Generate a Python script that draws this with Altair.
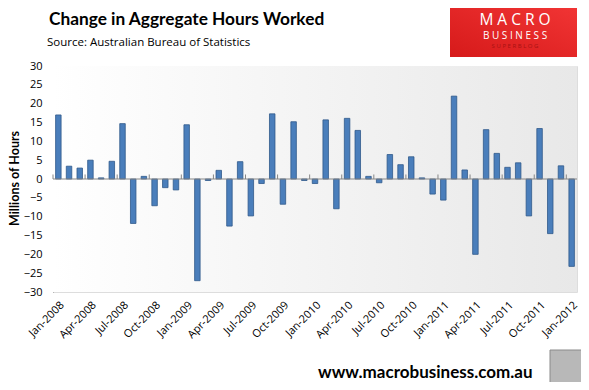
import altair as alt
import pandas as pd

months_2008 = ["Jan-2008", "Feb-2008", "Mar-2008", "Apr-2008", "May-2008", "Jun-2008",
               "Jul-2008", "Aug-2008", "Sep-2008", "Oct-2008", "Nov-2008", "Dec-2008"]
months_2009 = ["Jan-2009", "Feb-2009", "Mar-2009", "Apr-2009", "May-2009", "Jun-2009",
               "Jul-2009", "Aug-2009", "Sep-2009", "Oct-2009", "Nov-2009", "Dec-2009"]
months_2010 = ["Jan-2010", "Feb-2010", "Mar-2010", "Apr-2010", "May-2010", "Jun-2010",
               "Jul-2010", "Aug-2010", "Sep-2010", "Oct-2010", "Nov-2010", "Dec-2010"]
months_2011 = ["Jan-2011", "Feb-2011", "Mar-2011", "Apr-2011", "May-2011", "Jun-2011",
               "Jul-2011", "Aug-2011", "Sep-2011", "Oct-2011", "Nov-2011", "Dec-2011"]
months_2012 = ["Jan-2012"]

values_2008 = [17.0, 3.4, 2.9, 5.0, 0.3, 4.7, 14.7, -11.8, 0.7, -7.1, -2.3, -2.9]
values_2009 = [14.4, -27.0, -0.4, 2.3, -12.5, 4.6, -9.8, -1.2, 17.3, -6.7, 15.2, -0.4]
values_2010 = [-1.2, 15.7, -7.9, 16.1, 12.9, 0.7, -1.0, 6.5, 3.8, 5.9, 0.3, -4.0]
values_2011 = [-5.6, 22.0, 2.4, -20.0, 13.1, 6.8, 3.1, 4.3, -9.8, 13.4, -14.5, 3.5]
values_2012 = [-23.2]

tick_labels = ["Jan-2008", "Apr-2008", "Jul-2008", "Oct-2008", "Jan-2009", "Apr-2009",
               "Jul-2009", "Oct-2009", "Jan-2010", "Apr-2010", "Jul-2010", "Oct-2010",
               "Jan-2011", "Apr-2011", "Jul-2011", "Oct-2011", "Jan-2012"]
y_ticks = [30, 25, 20, 15, 10, 5, 0, -5, -10, -15, -20, -25, -30]

months = months_2008 + months_2009 + months_2010 + months_2011 + months_2012
values = values_2008 + values_2009 + values_2010 + values_2011 + values_2012

df = pd.DataFrame({"month": months, "value": values})
ticks_df = pd.DataFrame({"month": tick_labels})
one = pd.DataFrame({"a": [0]})

W, H = 524, 226

x_scale = alt.Scale(domain=months, paddingInner=0, paddingOuter=0)
y_scale = alt.Scale(domain=[-30, 30], nice=False, zero=False)

x_axis = alt.Axis(values=tick_labels, labelAngle=-45, labelAlign="right",
                  labelBaseline="top", domain=False, ticks=False, grid=False,
                  labelPadding=7, labelFontSize=11, labelFont="Open Sans",
                  labelColor="#000000", title=None, labelOverlap=False)
y_axis = alt.Axis(values=y_ticks, domain=True, domainColor="#868686",
                  ticks=False, grid=False, labelFontSize=11,
                  labelFont="Open Sans", labelColor="#000000", labelPadding=11,
                  labelOverlap=False,
                  title="Millions of Hours", titleFontSize=12.5,
                  titleFont="Lato", titleFontWeight="bold",
                  titleColor="#000000", titleX=-35, titleY=112,
                  titleAngle=270, titleAlign="center",
                  titleBaseline="alphabetic")

bg = alt.Chart(one).mark_rect(
    fill=alt.LinearGradient(
        gradient="linear",
        stops=[alt.GradientStop(color="#ffffff", offset=0),
               alt.GradientStop(color="#e8e8e8", offset=1)],
        x1=0, x2=1, y1=0, y2=0),
).encode(x=alt.value(0), x2=alt.value(W), y=alt.value(0), y2=alt.value(H))

bars = alt.Chart(df).mark_bar(
    size=5.5, fill="#4a7ebb", stroke="#30598a", strokeWidth=0.8
).encode(
    x=alt.X("month:N", scale=x_scale, sort=months, axis=x_axis),
    y=alt.Y("value:Q", scale=y_scale, axis=y_axis),
)

zero = alt.Chart(one).mark_rule(color="#868686", strokeWidth=1).encode(
    y=alt.YDatum(0, scale=y_scale, axis=y_axis), x=alt.value(0), x2=alt.value(W))

tick_marks = alt.Chart(ticks_df).mark_rule(color="#868686", strokeWidth=1).encode(
    x=alt.X("month:N", scale=x_scale, sort=months, bandPosition=0, axis=x_axis),
    y=alt.YDatum(0, scale=y_scale, axis=y_axis), y2=alt.Y2Datum(1.2))

title = alt.Chart(one).mark_text(
    text="Change in Aggregate Hours Worked", font="Lato", fontSize=17.3,
    fontWeight="bold", align="left", baseline="alphabetic", color="#000000"
).encode(x=alt.value(-4), y=alt.value(-41))

subtitle = alt.Chart(one).mark_text(
    text="Source: Australian Bureau of Statistics", font="Open Sans", fontSize=11.5,
    align="left", baseline="alphabetic", color="#000000"
).encode(x=alt.value(-6), y=alt.value(-20))

logo = alt.Chart(one).mark_rect(
    fill=alt.LinearGradient(
        gradient="linear",
        stops=[alt.GradientStop(color="#d61a1a", offset=0),
               alt.GradientStop(color="#f23535", offset=1)],
        x1=0, x2=1, y1=1, y2=0),
).encode(x=alt.value(397), x2=alt.value(524), y=alt.value(-62), y2=alt.value(-9))

logo1 = alt.Chart(one).mark_text(
    text="M A C R O", font="Open Sans", fontSize=15.5, color="#ffffff",
    align="center", baseline="alphabetic").encode(x=alt.value(462), y=alt.value(-41))
logo2 = alt.Chart(one).mark_text(
    text="B U S I N E S S", font="Open Sans", fontSize=10, color="#ffffff",
    align="center", baseline="alphabetic").encode(x=alt.value(462), y=alt.value(-27))
logo3 = alt.Chart(one).mark_text(
    text="S U P E R B L O G", font="Open Sans", fontSize=6, color="#a81212",
    align="center", baseline="alphabetic").encode(x=alt.value(462), y=alt.value(-18))

footer = alt.Chart(one).mark_text(
    text="www.macrobusiness.com.au", font="Lato", fontSize=17, fontWeight="bold",
    color="#000000", align="left", baseline="alphabetic"
).encode(x=alt.value(265), y=alt.value(312))

wolf = alt.Chart(one).mark_rect(fill="#b8b8b8", stroke="#8a8a8a", strokeWidth=1).encode(
    x=alt.value(497), x2=alt.value(530), y=alt.value(284), y2=alt.value(317))

chart = alt.layer(
    bg, bars, zero, tick_marks, title, subtitle, logo, logo1, logo2, logo3, footer, wolf
).properties(
    width=W, height=H,
    autosize=alt.AutoSizeParams(type="none"),
    padding={"left": 45, "top": 58, "right": 4, "bottom": 90},
).configure_view(stroke=None).configure(background="#ffffff")

chart.save("out.html", embed_options={"renderer": "svg", "actions": False})
